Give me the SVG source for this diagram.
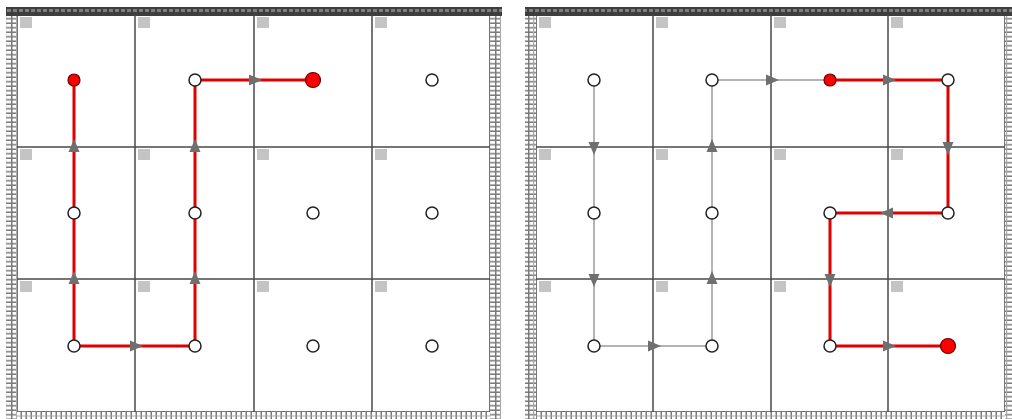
<svg xmlns="http://www.w3.org/2000/svg" width="1012" height="419" viewBox="0 0 1012 419">
<defs>
<pattern id="vrule" x="0" y="15" width="11" height="4.5" patternUnits="userSpaceOnUse">
<rect width="11" height="4.5" fill="#ffffff"/>
<rect x="0" y="3" width="11" height="1.5" fill="#7a7a7a"/>
<rect x="0" y="0" width="1.5" height="4.5" fill="#7a7a7a"/>
<rect x="5" y="0" width="1.2" height="4.5" fill="#a8a8a8"/>
</pattern>
<pattern id="hrule" x="17" y="412" width="5" height="7" patternUnits="userSpaceOnUse">
<rect width="5" height="7" fill="#ffffff"/>
<rect x="3.5" y="0" width="1.5" height="7" fill="#7a7a7a"/>
<rect x="0" y="3.5" width="5" height="1" fill="#a8a8a8"/>
</pattern>
<pattern id="tband" x="0" y="7" width="6" height="9" patternUnits="userSpaceOnUse">
<rect width="6" height="9" fill="#3e3e3e"/>
<rect x="1" y="2" width="4" height="3" fill="#7e7e7e"/>
</pattern>
<path id="arr" d="M-5,-5.5 L8,0 L-5,5.5 Z"/>
</defs>
<style>
.ruleV{fill:url(#vrule)}
.ruleH{fill:url(#hrule)}
.band{fill:url(#tband)}
.frame{fill:#ffffff;stroke:#4a4a4a;stroke-width:1.5}
.grid{stroke:#4a4a4a;stroke-width:1.5;fill:none}
.sq{fill:#c4c4c4}
.red{stroke:#e00000;stroke-width:3;fill:none;stroke-linejoin:miter}
.gray{stroke:#9a9a9a;stroke-width:1.5;fill:none}
.ar{fill:#6f6f6f}
.nw{fill:#ffffff;stroke:#222222;stroke-width:1.5}
.nr{fill:#ff0000;stroke:#660000;stroke-width:1.2}
</style>
<rect width="1012" height="419" fill="#ffffff"/>

<g id="panel-left">
<rect class="frame" x="17" y="15" width="473" height="397"/>
<rect class="ruleV" x="6" y="15" width="11" height="404"/>
<rect class="ruleV" x="490" y="15" width="11" height="404"/>
<rect class="ruleH" x="17" y="412" width="473" height="7"/>
<rect class="band" x="6" y="7" width="496" height="9"/>
<path class="grid" d="M135,15V412M254,15V412M372,15V412M17,147H490M17,279H490"/>
<g>
<rect class="sq" x="20" y="17" width="12" height="11"/>
<rect class="sq" x="138" y="17" width="12" height="11"/>
<rect class="sq" x="257" y="17" width="12" height="11"/>
<rect class="sq" x="375" y="17" width="12" height="11"/>
<rect class="sq" x="20" y="149" width="12" height="11"/>
<rect class="sq" x="138" y="149" width="12" height="11"/>
<rect class="sq" x="257" y="149" width="12" height="11"/>
<rect class="sq" x="375" y="149" width="12" height="11"/>
<rect class="sq" x="20" y="281" width="12" height="11"/>
<rect class="sq" x="138" y="281" width="12" height="11"/>
<rect class="sq" x="257" y="281" width="12" height="11"/>
<rect class="sq" x="375" y="281" width="12" height="11"/>
</g>
</g>

<g id="panel-right">
<rect class="frame" x="536" y="15" width="469" height="397"/>
<rect class="ruleV" x="525" y="15" width="11" height="404"/>
<rect class="ruleV" x="1005" y="15" width="11" height="404"/>
<rect class="ruleH" x="536" y="412" width="469" height="7"/>
<rect class="band" x="525" y="7" width="487" height="9"/>
<path class="grid" d="M653,15V412M771,15V412M888,15V412M536,147H1005M536,279H1005"/>
<g>
<rect class="sq" x="539" y="17" width="12" height="11"/>
<rect class="sq" x="656" y="17" width="12" height="11"/>
<rect class="sq" x="774" y="17" width="12" height="11"/>
<rect class="sq" x="891" y="17" width="12" height="11"/>
<rect class="sq" x="539" y="149" width="12" height="11"/>
<rect class="sq" x="656" y="149" width="12" height="11"/>
<rect class="sq" x="774" y="149" width="12" height="11"/>
<rect class="sq" x="891" y="149" width="12" height="11"/>
<rect class="sq" x="539" y="281" width="12" height="11"/>
<rect class="sq" x="656" y="281" width="12" height="11"/>
<rect class="sq" x="774" y="281" width="12" height="11"/>
<rect class="sq" x="891" y="281" width="12" height="11"/>
</g>
</g>

<g id="connectors">
<path class="red" d="M74,80V346H195V80H313"/>
<path class="gray" d="M594,80V346H712V80H830"/>
<path class="red" d="M830,80H948V213H830V346H948"/>
<g class="ar">
<use href="#arr" transform="translate(74,147) rotate(-90)"/>
<use href="#arr" transform="translate(74,279) rotate(-90)"/>
<use href="#arr" transform="translate(135,346)"/>
<use href="#arr" transform="translate(195,279) rotate(-90)"/>
<use href="#arr" transform="translate(195,147) rotate(-90)"/>
<use href="#arr" transform="translate(254,80)"/>
<use href="#arr" transform="translate(594,147) rotate(90)"/>
<use href="#arr" transform="translate(594,279) rotate(90)"/>
<use href="#arr" transform="translate(653,346)"/>
<use href="#arr" transform="translate(712,279) rotate(-90)"/>
<use href="#arr" transform="translate(712,147) rotate(-90)"/>
<use href="#arr" transform="translate(771,80)"/>
<use href="#arr" transform="translate(888,80)"/>
<use href="#arr" transform="translate(948,147) rotate(90)"/>
<use href="#arr" transform="translate(888,213) rotate(180)"/>
<use href="#arr" transform="translate(830,279) rotate(90)"/>
<use href="#arr" transform="translate(888,346)"/>
</g>
</g>

<g id="nodes-left">
<circle id="L-r1c1" class="nr" cx="74" cy="80" r="6"/>
<circle id="L-r1c2" class="nw" cx="195" cy="80" r="6"/>
<circle id="L-r1c3" class="nr" cx="313" cy="80" r="7.5"/>
<circle id="L-r1c4" class="nw" cx="432" cy="80" r="6"/>
<circle id="L-r2c1" class="nw" cx="74" cy="213" r="6"/>
<circle id="L-r2c2" class="nw" cx="195" cy="213" r="6"/>
<circle id="L-r2c3" class="nw" cx="313" cy="213" r="6"/>
<circle id="L-r2c4" class="nw" cx="432" cy="213" r="6"/>
<circle id="L-r3c1" class="nw" cx="74" cy="346" r="6"/>
<circle id="L-r3c2" class="nw" cx="195" cy="346" r="6"/>
<circle id="L-r3c3" class="nw" cx="313" cy="346" r="6"/>
<circle id="L-r3c4" class="nw" cx="432" cy="346" r="6"/>
</g>
<g id="nodes-right">
<circle id="R-r1c1" class="nw" cx="594" cy="80" r="6"/>
<circle id="R-r1c2" class="nw" cx="712" cy="80" r="6"/>
<circle id="R-r1c3" class="nr" cx="830" cy="80" r="6"/>
<circle id="R-r1c4" class="nw" cx="948" cy="80" r="6"/>
<circle id="R-r2c1" class="nw" cx="594" cy="213" r="6"/>
<circle id="R-r2c2" class="nw" cx="712" cy="213" r="6"/>
<circle id="R-r2c3" class="nw" cx="830" cy="213" r="6"/>
<circle id="R-r2c4" class="nw" cx="948" cy="213" r="6"/>
<circle id="R-r3c1" class="nw" cx="594" cy="346" r="6"/>
<circle id="R-r3c2" class="nw" cx="712" cy="346" r="6"/>
<circle id="R-r3c3" class="nw" cx="830" cy="346" r="6"/>
<circle id="R-r3c4" class="nr" cx="948" cy="346" r="7.5"/>
</g>
</svg>
